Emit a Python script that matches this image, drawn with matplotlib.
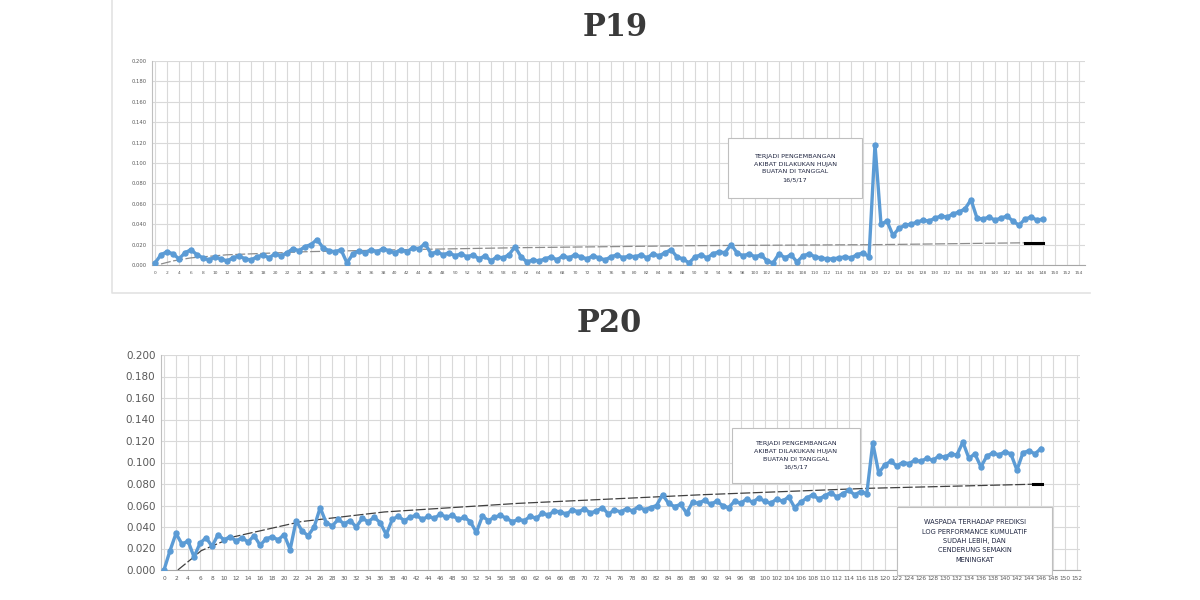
import numpy as np
import matplotlib
matplotlib.use("Agg")
import matplotlib.pyplot as plt
from matplotlib.patches import Rectangle
from matplotlib.lines import Line2D

# ---------------------------------------------------------------------------
# data (one value per reading)
# ---------------------------------------------------------------------------
p19_before = [
    0.002, 0.010, 0.013, 0.011, 0.006, 0.012, 0.015, 0.010, 0.007, 0.005,
    0.008, 0.006, 0.004, 0.007, 0.009, 0.006, 0.005, 0.008, 0.010, 0.007,
    0.011, 0.009, 0.012, 0.016, 0.014, 0.018, 0.020, 0.025, 0.017, 0.014,
    0.013, 0.015, 0.002, 0.011, 0.014, 0.012, 0.015, 0.013, 0.016, 0.014,
    0.012, 0.015, 0.013, 0.017, 0.016, 0.021, 0.011, 0.013, 0.010, 0.012,
    0.009, 0.011, 0.008, 0.010, 0.006, 0.009, 0.004, 0.008, 0.007, 0.010,
    0.018, 0.008, 0.003, 0.005, 0.004, 0.006, 0.008, 0.005, 0.009, 0.007,
    0.010, 0.008, 0.006, 0.009, 0.007, 0.005, 0.008, 0.010, 0.007, 0.009,
    0.008, 0.010, 0.007, 0.011, 0.009, 0.012, 0.015, 0.008, 0.006, 0.002,
    0.008, 0.010, 0.007, 0.011, 0.013, 0.012, 0.020, 0.012, 0.009, 0.011,
    0.008, 0.010, 0.004, 0.002, 0.011, 0.007, 0.010, 0.003, 0.009, 0.011,
    0.008, 0.007, 0.006, 0.006, 0.007, 0.008, 0.007, 0.010, 0.012, 0.008,
]
p19_spike = [0.118]
p19_after = [
    0.040, 0.043, 0.029, 0.036, 0.039, 0.040, 0.042, 0.044, 0.043, 0.046,
    0.048, 0.047, 0.050, 0.052, 0.055, 0.064, 0.046, 0.045, 0.047, 0.044,
    0.046, 0.048, 0.043, 0.039, 0.045, 0.047, 0.044, 0.045,
]
p19_trend_x = [1, 3, 6, 12, 25, 41, 61, 91, 121, 148]
p19_trend_y = [0.001, 0.004, 0.007, 0.010, 0.013, 0.015, 0.017, 0.019, 0.020, 0.022]

p20_before = [
    0.000, 0.018, 0.034, 0.024, 0.027, 0.012, 0.025, 0.030, 0.022, 0.033,
    0.028, 0.031, 0.027, 0.030, 0.026, 0.032, 0.023, 0.029, 0.031, 0.028,
    0.033, 0.019, 0.046, 0.036, 0.032, 0.040, 0.058, 0.044, 0.041, 0.047,
    0.043, 0.046, 0.040, 0.048, 0.045, 0.049, 0.044, 0.033, 0.047, 0.050,
    0.046, 0.049, 0.051, 0.047, 0.050, 0.048, 0.052, 0.049, 0.051, 0.047,
    0.049, 0.045, 0.035, 0.050, 0.046, 0.049, 0.051, 0.048, 0.045, 0.047,
    0.046, 0.050, 0.048, 0.053, 0.051, 0.055, 0.054, 0.052, 0.056, 0.054,
    0.057, 0.053, 0.055, 0.058, 0.052, 0.056, 0.054, 0.057, 0.055, 0.059,
    0.056, 0.058, 0.060, 0.070, 0.062, 0.059, 0.061, 0.053, 0.063, 0.062,
    0.065, 0.061, 0.064, 0.060, 0.058, 0.064, 0.062, 0.066, 0.063, 0.067,
    0.064, 0.062, 0.066, 0.064, 0.068, 0.058, 0.063, 0.067, 0.070, 0.066,
    0.069, 0.072, 0.068, 0.071, 0.074, 0.070, 0.073, 0.071,
]
p20_spike = [0.118]
p20_after = [
    0.090, 0.098, 0.101, 0.097, 0.100, 0.099, 0.102, 0.101, 0.104, 0.102,
    0.106, 0.105, 0.108, 0.107, 0.119, 0.104, 0.108, 0.096, 0.106, 0.109,
    0.107, 0.110, 0.108, 0.093, 0.109, 0.111, 0.108, 0.113,
]
p20_trend_x = [2.3, 4.5, 6.2, 11.7, 22.8, 36.7, 59, 89.5, 117.3, 146.2]
p20_trend_y = [0.000, 0.010, 0.018, 0.031, 0.045, 0.054, 0.062, 0.070, 0.076, 0.080]

note_rain = "TERJADI PENGEMBANGAN\nAKIBAT DILAKUKAN HUJAN\nBUATAN DI TANGGAL\n16/5/17"
note_warn = ("WASPADA TERHADAP PREDIKSI\nLOG PERFORMANCE KUMULATIF\n"
             "SUDAH LEBIH, DAN\nCENDERUNG SEMAKIN\nMENINGKAT")

yticks = np.arange(0, 0.2001, 0.02)
blue = "#5B9BD5"

W, H = 1200, 600


def fx(px):
    return px / W


def fy(py):
    return 1 - py / H


def setup(ax, xmax, ylab_size, xlab_size):
    ax.set_ylim(0, 0.2)
    ax.set_xlim(-0.5, xmax)
    ax.set_yticks(yticks)
    ax.set_yticklabels(["%.3f" % v for v in yticks], fontsize=ylab_size, color="#595959")
    pos = np.arange(0, xmax, 2)
    ax.set_xticks(pos)
    ax.set_xticklabels([str(int(p)) for p in pos], fontsize=xlab_size, color="#595959")
    ax.tick_params(length=0, pad=4)
    ax.grid(True, color="#D9D9D9", lw=0.8)
    ax.set_axisbelow(True)
    for s in ["top", "right"]:
        ax.spines[s].set_visible(False)
    ax.spines["left"].set_color("#BFBFBF")
    ax.spines["bottom"].set_color("#A6A6A6")


def note(fig, x0, y0, x1, y1, text, size):
    fig.patches.append(Rectangle((fx(x0), fy(y1)), fx(x1 - x0), (y1 - y0) / H,
                                 transform=fig.transFigure, facecolor="white",
                                 edgecolor="#BFBFBF", lw=0.8, zorder=5))
    fig.text(fx((x0 + x1) / 2), fy((y0 + y1) / 2), text, ha="center", va="center",
             fontsize=size, color="#1F2540", linespacing=1.7, zorder=6)


fig = plt.figure(figsize=(12, 6), dpi=100)

# ---------------- P19 ----------------
ax1 = fig.add_axes([fx(152), fy(265), fx(1085 - 152), 204 / H])
s19 = p19_before + p19_spike + p19_after
x19 = np.arange(len(s19))
setup(ax1, 155, 3.8, 3.2)
ax1.plot(p19_trend_x, p19_trend_y, color="#8C8C8C", lw=0.9, ls=(0, (8, 2)), zorder=2)
ax1.plot([p19_trend_x[-1] - 3, p19_trend_x[-1]], [p19_trend_y[-1]] * 2, color="black", lw=2.2, zorder=3)
ax1.plot(x19, s19, color=blue, lw=2.4, marker="o", ms=3.6, zorder=4)

fig.text(fx(615), fy(27), "P19", ha="center", va="center", fontsize=22,
         family="DejaVu Serif", weight="bold", color="#3A3A3A")
fig.add_artist(Line2D([fx(112), fx(112), fx(1090)], [fy(0), fy(293), fy(293)],
                      color="#E3E3E3", lw=1.2))
note(fig, 728, 138, 862, 198, note_rain, 4.6)

# ---------------- P20 ----------------
ax2 = fig.add_axes([fx(161), fy(570), fx(1080 - 161), 215 / H])
s20 = p20_before + p20_spike + p20_after
x20 = np.arange(len(s20))
setup(ax2, 152.5, 7.5, 4.2)
ax2.plot(p20_trend_x, p20_trend_y, color="#404040", lw=0.9, ls=(0, (8, 2)), zorder=2)
ax2.plot([p20_trend_x[-1] - 1.5, p20_trend_x[-1]], [p20_trend_y[-1]] * 2, color="black", lw=2.2, zorder=3)
ax2.plot(x20, s20, color=blue, lw=2.4, marker="o", ms=3.6, zorder=4)

fig.text(fx(609), fy(323), "P20", ha="center", va="center", fontsize=22,
         family="DejaVu Serif", weight="bold", color="#3A3A3A")
note(fig, 732, 428, 860, 483, note_rain, 4.6)
note(fig, 897, 507, 1052, 575, note_warn, 4.8)

fig.savefig("out.png", dpi=100)
